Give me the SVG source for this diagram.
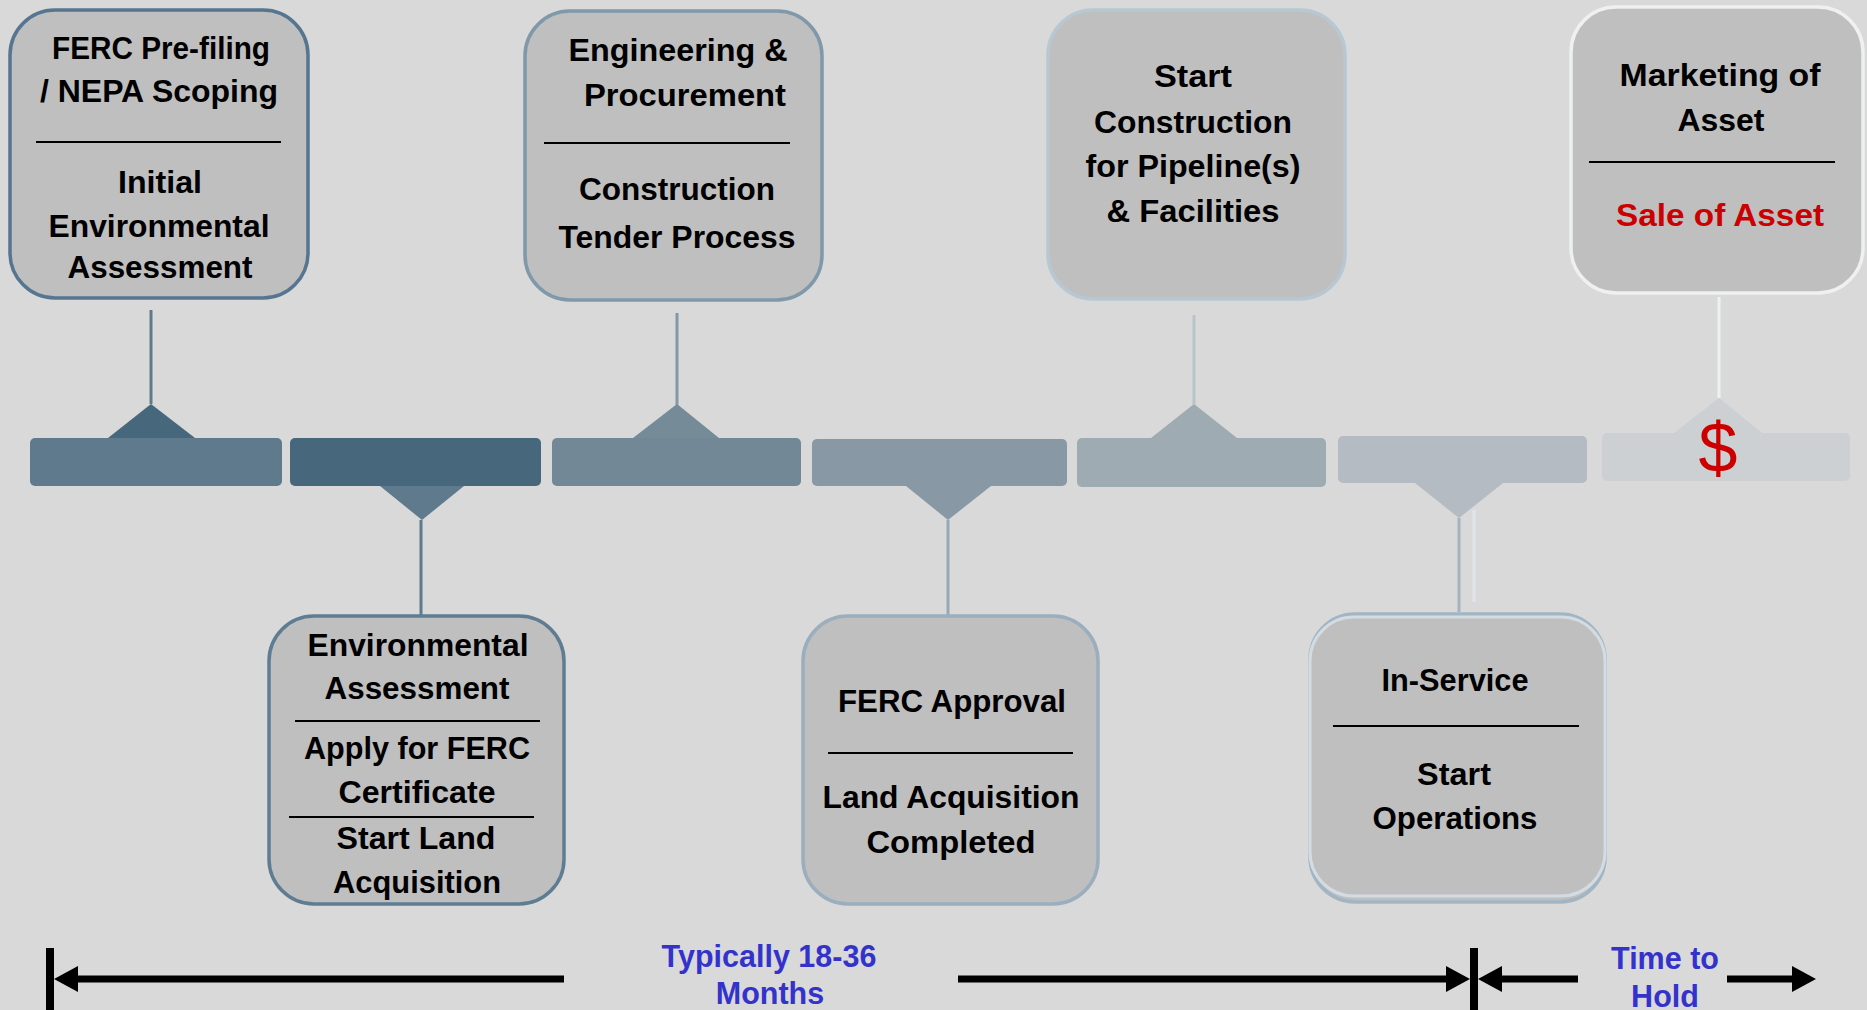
<svg xmlns="http://www.w3.org/2000/svg" width="1867" height="1010" viewBox="0 0 1867 1010">
  <defs>
    <style>
      .box { fill: #bfbfbf; stroke-width: 3.5; }
      .t { font-family: "Liberation Sans", Arial, sans-serif; font-weight: bold; font-size: 32px; text-anchor: middle; fill: #000; }
      .red { fill: #cc0000; }
      .blue { font-family: "Liberation Sans", Arial, sans-serif; font-weight: bold; font-size: 30.5px; text-anchor: middle; fill: #3333cc; }
      .div { stroke: #000; stroke-width: 2; }
      .stem { stroke-width: 3; fill: none; }
      .span { stroke: #000; stroke-width: 7; fill: none; marker-end: url(#head); }
      .tick { fill: #000; }
    </style>
    <marker id="head" viewBox="0 0 24 26" refX="10" refY="13" markerWidth="24" markerHeight="26" markerUnits="userSpaceOnUse" orient="auto">
      <path d="M0,0 L24,13 L0,26 Z" fill="#000"/>
    </marker>
  </defs>

  <rect x="0" y="0" width="1867" height="1010" fill="#d9d9d9"/>

  <!-- timeline bar segments with pointers -->
  <g id="timeline">
    <rect x="30" y="438" width="252" height="48" rx="5" fill="#5f7a8c"/>
    <polygon points="108,438 151,404 195,438" fill="#47677c"/>
    <rect x="290" y="438" width="251" height="48" rx="5" fill="#47677c"/>
    <polygon points="380,486 422,520 464,486" fill="#5f7a8c"/>
    <rect x="552" y="438" width="249" height="48" rx="5" fill="#728896"/>
    <polygon points="633,438 677,404 719,438" fill="#768b98"/>
    <rect x="812" y="439" width="255" height="47" rx="5" fill="#8899a5"/>
    <polygon points="906,486 948,520 991,486" fill="#8899a5"/>
    <rect x="1077" y="438" width="249" height="49" rx="5" fill="#9eabb3"/>
    <polygon points="1151,438 1194,404 1237,438" fill="#9eabb3"/>
    <rect x="1338" y="436" width="249" height="47" rx="5" fill="#b4bbc2"/>
    <polygon points="1415,483 1459,518 1503,483" fill="#b4bbc2"/>
    <rect x="1602" y="433" width="248" height="48" rx="5" fill="#ccd0d2"/>
    <polygon points="1674,433 1719,398 1762,433" fill="#ccd0d2"/>
    <text x="1718" y="472" font-family="Liberation Sans, Arial, sans-serif" font-size="70" text-anchor="middle" fill="#cc0000">$</text>
  </g>

  <!-- connectors: stems from the bar to each milestone box, and the duration spans -->
  <g id="connectors">
    <line class="stem" x1="151" y1="310" x2="151" y2="404" stroke="#5f7a8c"/>
    <line class="stem" x1="421" y1="520" x2="421" y2="615" stroke="#5f7a8c"/>
    <line class="stem" x1="677" y1="313" x2="677" y2="405" stroke="#8198a8"/>
    <line class="stem" x1="948" y1="520" x2="948" y2="615" stroke="#98a9b6"/>
    <line class="stem" x1="1194" y1="315" x2="1194" y2="405" stroke="#b8c3ca"/>
    <line class="stem" x1="1459" y1="518" x2="1459" y2="612" stroke="#a5b3be"/>
    <line class="stem" x1="1474" y1="510" x2="1474" y2="602" stroke="#e0e5e9"/>
    <line class="stem" x1="1719" y1="297" x2="1719" y2="398" stroke="#eef0f2"/>

    <rect class="tick" x="46" y="948" width="8" height="62"/>
    <rect class="tick" x="1470" y="948" width="8" height="62"/>
    <line class="span" x1="564" y1="979" x2="68" y2="979"/>
    <line class="span" x1="958" y1="979" x2="1456" y2="979"/>
    <line class="span" x1="1578" y1="979" x2="1492" y2="979"/>
    <line class="span" x1="1727" y1="979" x2="1802" y2="979"/>
  </g>

  <g id="node-prefiling">
    <rect class="box" x="10" y="10" width="298" height="288" rx="45" stroke="#557590"/>
    <text class="t" x="161" y="59" textLength="218" lengthAdjust="spacingAndGlyphs">FERC Pre-filing</text>
    <text class="t" x="159" y="102" textLength="238" lengthAdjust="spacingAndGlyphs">/ NEPA Scoping</text>
    <line class="div" x1="36" y1="142" x2="281" y2="142"/>
    <text class="t" x="160" y="193" textLength="84" lengthAdjust="spacingAndGlyphs">Initial</text>
    <text class="t" x="159" y="237" textLength="221" lengthAdjust="spacingAndGlyphs">Environmental</text>
    <text class="t" x="160" y="278" textLength="185" lengthAdjust="spacingAndGlyphs">Assessment</text>
  </g>

  <g id="node-engineering">
    <rect class="box" x="525" y="11" width="297" height="289" rx="45" stroke="#7f98aa"/>
    <text class="t" x="678" y="61" textLength="219" lengthAdjust="spacingAndGlyphs">Engineering &amp;</text>
    <text class="t" x="685" y="106" textLength="202" lengthAdjust="spacingAndGlyphs">Procurement</text>
    <line class="div" x1="544" y1="143" x2="790" y2="143"/>
    <text class="t" x="677" y="200" textLength="196" lengthAdjust="spacingAndGlyphs">Construction</text>
    <text class="t" x="677" y="248" textLength="237" lengthAdjust="spacingAndGlyphs">Tender Process</text>
  </g>

  <g id="node-construction">
    <rect class="box" x="1048" y="10" width="297" height="289" rx="45" stroke="#b8c8d2"/>
    <text class="t" x="1193" y="87" textLength="78" lengthAdjust="spacingAndGlyphs">Start</text>
    <text class="t" x="1193" y="133" textLength="198" lengthAdjust="spacingAndGlyphs">Construction</text>
    <text class="t" x="1193" y="177" textLength="215" lengthAdjust="spacingAndGlyphs">for Pipeline(s)</text>
    <text class="t" x="1193" y="222" textLength="173" lengthAdjust="spacingAndGlyphs">&amp; Facilities</text>
  </g>

  <g id="node-marketing">
    <rect class="box" x="1571" y="7" width="292" height="286" rx="45" stroke="#eef0f2" stroke-width="4"/>
    <text class="t" x="1720" y="86" textLength="201" lengthAdjust="spacingAndGlyphs">Marketing of</text>
    <text class="t" x="1721" y="131" textLength="87" lengthAdjust="spacingAndGlyphs">Asset</text>
    <line class="div" x1="1589" y1="162" x2="1835" y2="162"/>
    <text class="t red" x="1720" y="226" textLength="208" lengthAdjust="spacingAndGlyphs">Sale of Asset</text>
  </g>

  <g id="node-assessment">
    <rect class="box" x="269" y="616" width="295" height="288" rx="45" stroke="#5f7d92"/>
    <text class="t" x="418" y="656" textLength="221" lengthAdjust="spacingAndGlyphs">Environmental</text>
    <text class="t" x="417" y="699" textLength="185" lengthAdjust="spacingAndGlyphs">Assessment</text>
    <line class="div" x1="295" y1="721" x2="540" y2="721"/>
    <text class="t" x="417" y="759" textLength="226" lengthAdjust="spacingAndGlyphs">Apply for FERC</text>
    <text class="t" x="417" y="803" textLength="157" lengthAdjust="spacingAndGlyphs">Certificate</text>
    <line class="div" x1="289" y1="817" x2="534" y2="817"/>
    <text class="t" x="416" y="849" textLength="159" lengthAdjust="spacingAndGlyphs">Start Land</text>
    <text class="t" x="417" y="893" textLength="168" lengthAdjust="spacingAndGlyphs">Acquisition</text>
  </g>

  <g id="node-approval">
    <rect class="box" x="803" y="616" width="295" height="288" rx="45" stroke="#9aaebe"/>
    <text class="t" x="952" y="712" textLength="228" lengthAdjust="spacingAndGlyphs">FERC Approval</text>
    <line class="div" x1="828" y1="753" x2="1073" y2="753"/>
    <text class="t" x="951" y="808" textLength="257" lengthAdjust="spacingAndGlyphs">Land Acquisition</text>
    <text class="t" x="951" y="853" textLength="169" lengthAdjust="spacingAndGlyphs">Completed</text>
  </g>

  <g id="node-inservice">
    <rect class="box" x="1310" y="614" width="295" height="288" rx="45" stroke="#a3b5c3" stroke-width="3"/>
    <rect x="1310" y="617" width="295" height="279" rx="44" fill="#bfbfbf" stroke="#d3dce3" stroke-width="3"/>
    <text class="t" x="1455" y="691" textLength="147" lengthAdjust="spacingAndGlyphs">In-Service</text>
    <line class="div" x1="1333" y1="726" x2="1579" y2="726"/>
    <text class="t" x="1454" y="785" textLength="74" lengthAdjust="spacingAndGlyphs">Start</text>
    <text class="t" x="1455" y="829" textLength="165" lengthAdjust="spacingAndGlyphs">Operations</text>
  </g>

  <g id="label-duration">
    <text class="blue" x="769" y="967">Typically 18-36</text>
    <text class="blue" x="770" y="1004">Months</text>
  </g>

  <g id="label-hold">
    <text class="blue" x="1665" y="969">Time to</text>
    <text class="blue" x="1665" y="1007">Hold</text>
  </g>
</svg>
